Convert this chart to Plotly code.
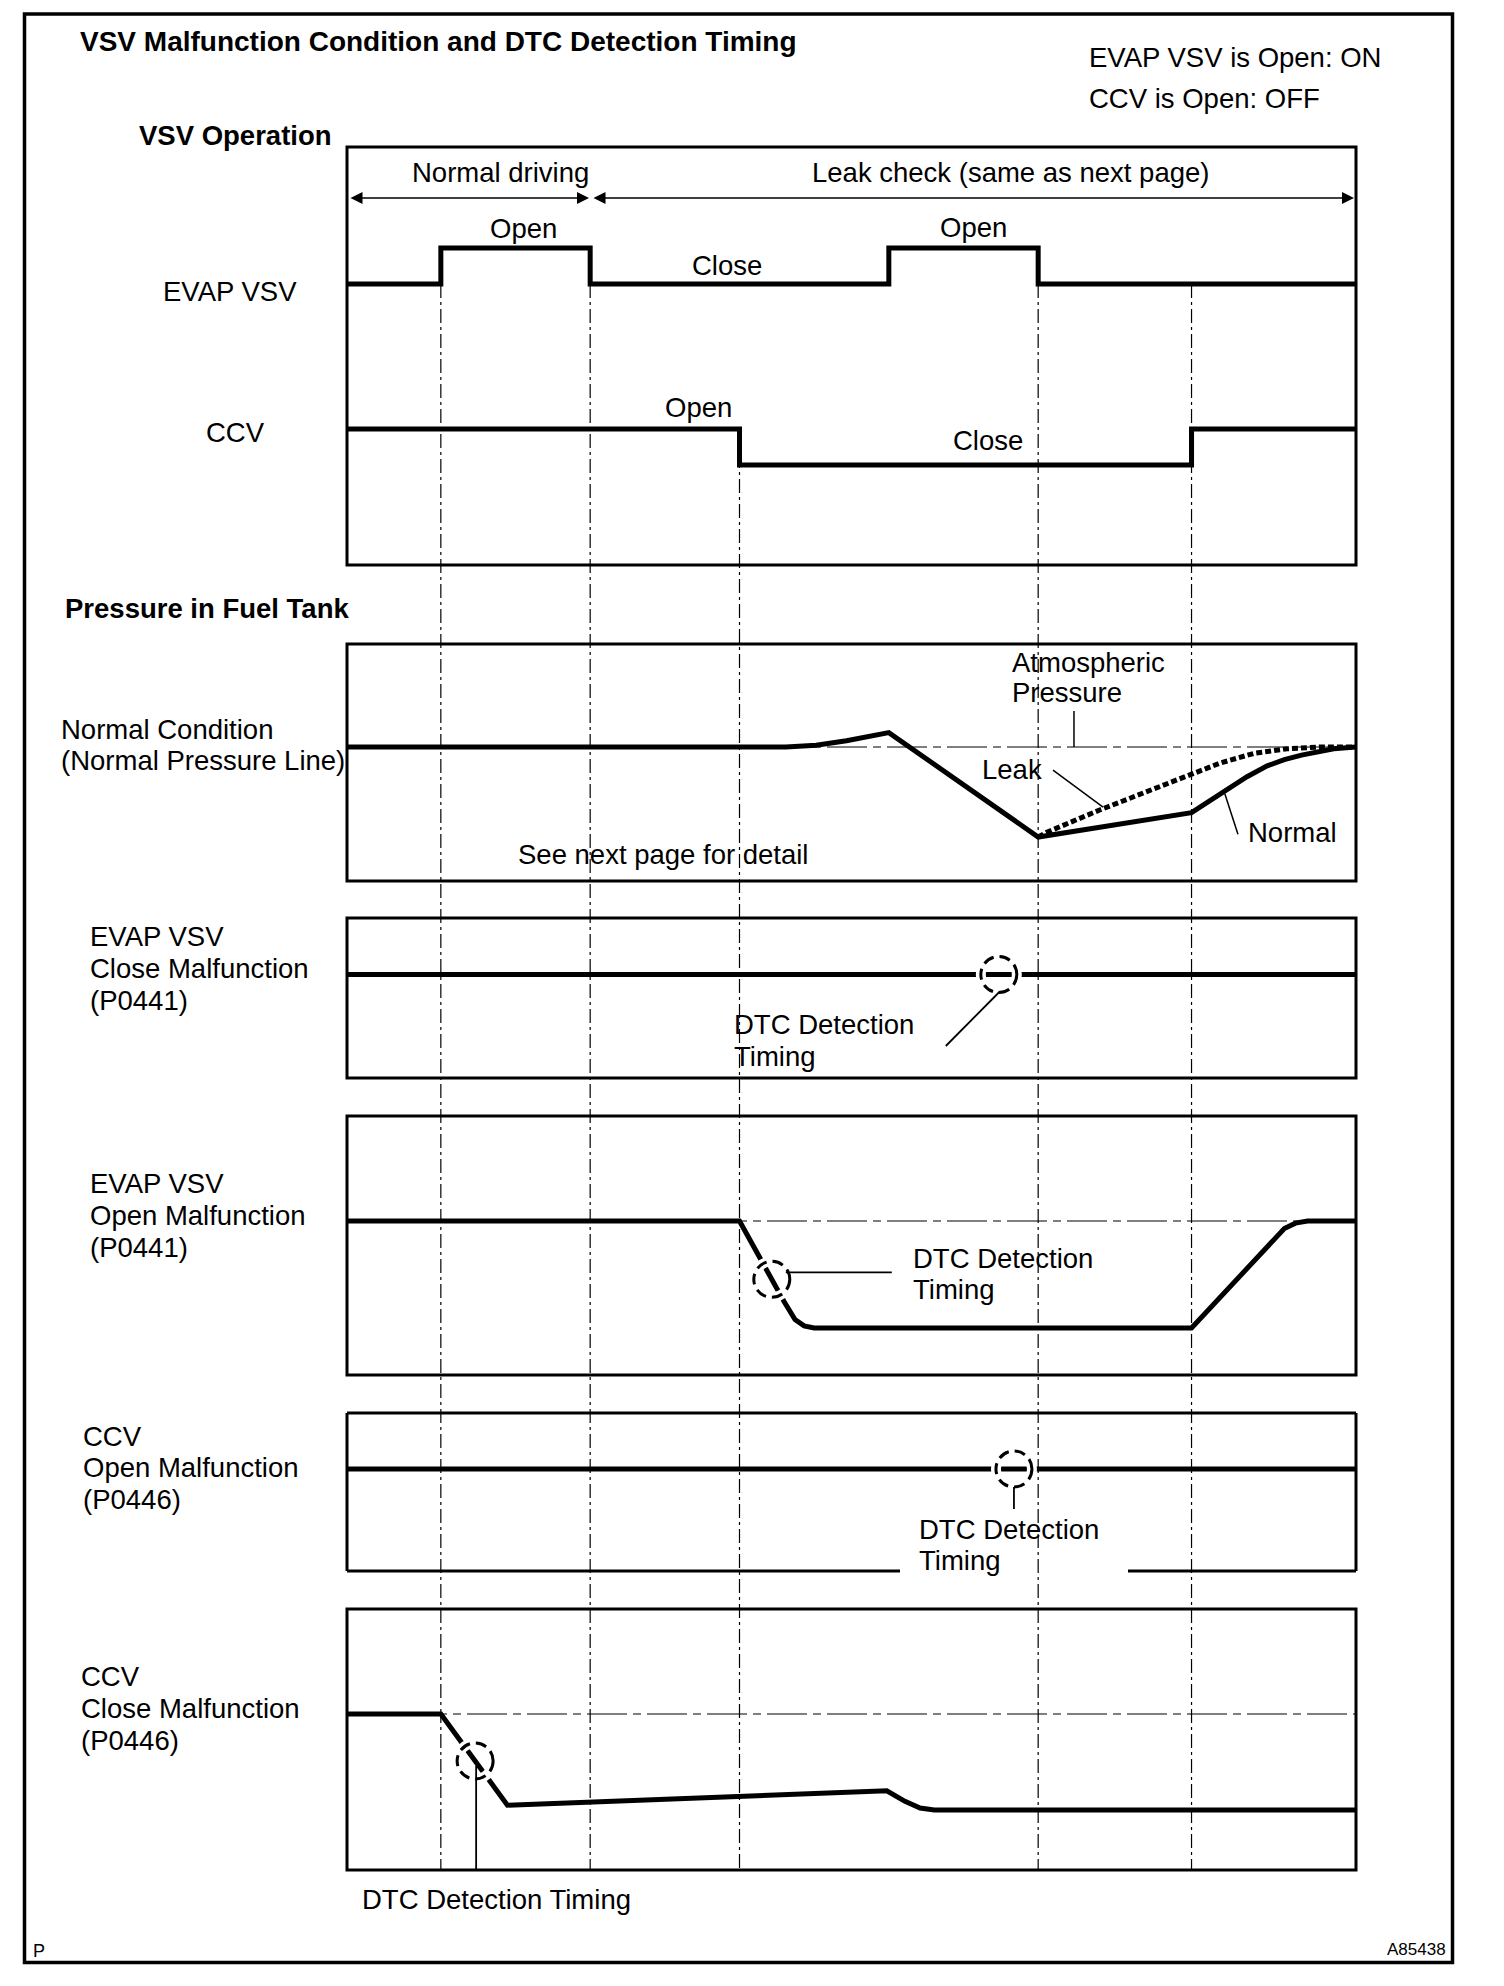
import numpy as np
import plotly.graph_objects as go

W, H = 1504, 1986

# ---------------- data (time axis 0..100, arbitrary units) ----------------
evap_vsv_t = [0, 9.3, 24.1, 53.7, 68.5, 100]
evap_vsv_state = [0, 1, 0, 1, 0, 0]          # 1 = Open, 0 = Close
ccv_t = [0, 38.9, 83.7, 100]
ccv_state = [1, 0, 1, 1]                      # 1 = Open, 0 = Close

# pressure relative to atmospheric (0 = atmospheric, -1 = lowest)
normal_t = [0, 38.9, 43.5, 46.5, 49.5, 53.7, 68.5, 83.7, 85.5, 87.2, 89.2, 91.2, 92.9, 94.6, 96.2, 97.8, 100]
normal_p = [0, 0, 0, 0.02, 0.07, 0.16, -1.0, -0.73, -0.60, -0.47, -0.33, -0.21, -0.14, -0.09, -0.05, -0.02, 0]
leak_t = [68.5, 69.3, 74.6, 78.6, 81.9, 83.9, 86.5, 89.9, 93.2, 96.5, 100]
leak_p = [-1.0, -0.95, -0.70, -0.53, -0.39, -0.30, -0.18, -0.07, -0.02, 0, 0]

p0441_close_t = [0, 100]
p0441_close_p = [0, 0]
p0441_open_t = [0, 38.9, 43.3, 44.4, 45.3, 46.3, 83.7, 92.9, 94.0, 95.2, 100]
p0441_open_p = [0, 0, -0.75, -0.92, -0.98, -1.0, -1.0, -0.07, -0.02, 0, 0]
p0446_open_t = [0, 100]
p0446_open_p = [0, 0]
p0446_close_t = [0, 9.3, 15.9, 53.5, 55.3, 56.8, 58.2, 100]
p0446_close_p = [0, 0, -0.95, -0.80, -0.91, -0.98, -1.0, -1.0]

dtc_t = {"p0441_close": 64.6, "p0441_open": 42.1, "p0446_open": 66.1, "p0446_close": 12.7}

# ---------------- layout helpers ----------------
REG = "Liberation Sans, Arial, sans-serif"
BOLD = "Liberation Sans, Arial, sans-serif"
X0, X1 = 347, 1356


def px_y(p):
    return 1 - p / H


def yaxis(top, bottom, zero, unit):
    return dict(domain=[1 - bottom / H, 1 - top / H],
                range=[(zero - bottom) / unit, (zero - top) / unit],
                visible=False, fixedrange=True, anchor="x")


panels = {
    "y": (147, 565, 284, 36),      # EVAP VSV state (0 at 284px)
    "y2": (147, 565, 465, 36),     # CCV state (0 at 465px)
    "y3": (644, 881, 747, 90),     # pressure normal condition
    "y4": (918, 1078, 974.5, 100),
    "y5": (1116, 1375, 1221, 107),
    "y6": (1413, 1571, 1469, 100),
    "y7": (1609, 1870, 1714, 96),
}

fig = go.Figure()
line_kw = dict(color="black", width=5)


def add(t, v, yref, **kw):
    lk = dict(line_kw)
    lk.update(kw.pop("line", {}))
    fig.add_trace(go.Scatter(x=t, y=v, mode="lines", line=lk, xaxis="x", yaxis=yref,
                             hoverinfo="skip", showlegend=False, **kw))


add(evap_vsv_t, evap_vsv_state, "y", line=dict(shape="hv"))
add(ccv_t, ccv_state, "y2", line=dict(shape="hv"))
add(normal_t, normal_p, "y3")
add(leak_t, leak_p, "y3", line=dict(dash="6px,3px"))
add(p0441_close_t, p0441_close_p, "y4")
add(p0441_open_t, p0441_open_p, "y5")
add(p0446_open_t, p0446_open_p, "y6")
add(p0446_close_t, p0446_close_p, "y7")

shapes = []
annotations = []

# guide lines (dash-dot verticals)
guide_t = [evap_vsv_t[1], evap_vsv_t[2], ccv_t[1], evap_vsv_t[4], ccv_t[2]]
guide_start = [284, 284, 429, 284, 284]
for t, s in zip(guide_t, guide_start):
    shapes.append(dict(type="line", xref="x", yref="paper", x0=t, x1=t, y0=px_y(s), y1=px_y(1870),
                       line=dict(color="black", width=1.2, dash="14px,4px,3px,4px"), layer="below"))

# atmospheric reference lines
for yr in ["y3", "y5", "y7"]:
    shapes.append(dict(type="line", xref="x", yref=yr, x0=0, x1=100, y0=0, y1=0,
                       line=dict(color="black", width=1.2, dash="40px,6px,8px,6px"), layer="below"))

# panel boxes
for yr in ["y", "y3", "y4", "y5", "y7"]:
    shapes.append(dict(type="rect", xref="x domain", yref=yr + " domain", x0=0, x1=1, y0=0, y1=1,
                       line=dict(color="black", width=3), fillcolor="rgba(0,0,0,0)", layer="above"))
# CCV open malfunction box with gap in bottom edge
g0, g1 = (900 - X0) / (X1 - X0), (1128 - X0) / (X1 - X0)
for (a, b, c, d) in [(0, 0, 0, 1), (0, 1, 1, 1), (1, 1, 1, 0), (0, 0, g0, 0), (g1, 0, 1, 0)]:
    shapes.append(dict(type="line", xref="x domain", yref="y6 domain", x0=a, y0=b, x1=c, y1=d,
                       line=dict(color="black", width=3), layer="above"))

# outer frame
shapes.append(dict(type="rect", xref="paper", yref="paper", x0=24.5 / W, x1=1452.5 / W,
                   y0=px_y(1962.5), y1=px_y(14), line=dict(color="black", width=3.5),
                   fillcolor="rgba(0,0,0,0)"))

# simple leader lines in pressure panel
for (ta, pa, tb, pb) in [(72.05, 0, 72.05, 0.4), (69.97, -0.256, 74.93, -0.667), (87.0, -0.52, 88.3, -0.97)]:
    shapes.append(dict(type="line", xref="x", yref="y3", x0=ta, y0=pa, x1=tb, y1=pb,
                       line=dict(color="black", width=1.5), layer="above"))

# DTC detection circles + pointers
R = 18
dtc_series = {
    "p0441_close": (p0441_close_t, p0441_close_p, "y4", [(1, -17, -53, -71.5)]),
    "p0441_open": (p0441_open_t, p0441_open_p, "y5", [(14, 7, 120, 7)]),
    "p0446_open": (p0446_open_t, p0446_open_p, "y6", [(0, -18, 0, -40)]),
    "p0446_close": (p0446_close_t, p0446_close_p, "y7", [(1, -5, 1, -116)]),
}
for key, (ts, ps, yr, ptrs) in dtc_series.items():
    t = dtc_t[key]
    v = float(np.interp(t, ts, ps))
    for color, width, dash in [("white", 10, "solid"), ("black", 3, "11px,6px")]:
        shapes.append(dict(type="circle", xref="x", yref=yr, xsizemode="pixel", ysizemode="pixel",
                           xanchor=t, yanchor=v, x0=-R, x1=R, y0=-R, y1=R,
                           line=dict(color=color, width=width, dash=dash),
                           fillcolor="rgba(0,0,0,0)", layer="above"))
    for (a, b, c, d) in ptrs:
        shapes.append(dict(type="line", xref="x", yref=yr, xsizemode="pixel", ysizemode="pixel",
                           xanchor=t, yanchor=v, x0=a, y0=b, x1=c, y1=d,
                           line=dict(color="black", width=1.8), layer="above"))


def T(text, x, y, xanchor="left", size=27.5, family=REG):
    annotations.append(dict(text=text, x=x / W, y=px_y(y), xref="paper", yref="paper",
                            xanchor=xanchor, yanchor="middle", showarrow=False,
                            font=dict(family=family, size=size, color="black")))


def TB(text, x, y, size=27.5):
    T("<b>" + text + "</b>", x, y, size=size, family=BOLD)


TB("VSV Malfunction Condition and DTC Detection Timing", 78, 41, size=28)
T("EVAP VSV is Open: ON", 1087, 57)
T("CCV is Open: OFF", 1087, 99)
TB("VSV Operation", 137, 135)
T("Normal driving", 500, 172, "center")
T("Leak check (same as next page)", 1010, 172, "center")
T("Open", 523, 228, "center")
T("Open", 973, 227, "center")
T("Close", 727, 265, "center")
T("EVAP VSV", 230, 292, "center")
T("Open", 698, 407, "center")
T("Close", 988, 441, "center")
T("CCV", 235, 433, "center")
TB("Pressure in Fuel Tank", 63, 608)
T("Normal Condition", 59, 729)
T("(Normal Pressure Line)", 59, 760)
T("Atmospheric", 1010, 663)
T("Pressure", 1010, 693)
T("Leak", 1012, 770, "center")
T("Normal", 1292, 833, "center")
T("See next page for detail", 663, 854, "center")
T("EVAP VSV", 88, 936)
T("Close Malfunction", 88, 968)
T("(P0441)", 88, 1000)
T("DTC Detection", 732, 1024)
T("Timing", 732, 1056)
T("EVAP VSV", 88, 1183)
T("Open Malfunction", 88, 1215)
T("(P0441)", 88, 1247)
T("DTC Detection", 911, 1258)
T("Timing", 911, 1289)
T("CCV", 81, 1436)
T("Open Malfunction", 81, 1467)
T("(P0446)", 81, 1499)
T("DTC Detection", 917, 1529)
T("Timing", 917, 1560)
T("CCV", 79, 1676)
T("Close Malfunction", 79, 1708)
T("(P0446)", 79, 1740)
T("DTC Detection Timing", 360, 1899)
T("P", 31, 1951, size=18)
T("A85438", 1448, 1949, "right", size=17)

# double-headed range arrows
for (head, tail) in [(589, 349), (1354, 592)]:
    annotations.append(dict(text="", x=head / W, y=px_y(198), xref="paper", yref="paper",
                            ax=-(head - tail), ay=0, axref="pixel", ayref="pixel",
                            showarrow=True, arrowhead=2, startarrowhead=2, arrowside="end+start",
                            arrowsize=1.6, arrowwidth=1.5, arrowcolor="black"))

layout = dict(
    width=W, height=H, margin=dict(l=0, r=0, t=0, b=0, pad=0),
    paper_bgcolor="white", plot_bgcolor="rgba(0,0,0,0)", showlegend=False,
    xaxis=dict(domain=[X0 / W, X1 / W], range=[0, 100], visible=False, fixedrange=True, anchor="y"),
    shapes=shapes, annotations=annotations,
)
for name, (top, bottom, zero, unit) in panels.items():
    key = "yaxis" if name == "y" else "yaxis" + name[1:]
    layout[key] = yaxis(top, bottom, zero, unit)

fig.update_layout(**layout)
fig.write_html("out.html", config={"staticPlot": True},
               post_script="document.body.style.margin='0';document.body.style.overflow='hidden';")
